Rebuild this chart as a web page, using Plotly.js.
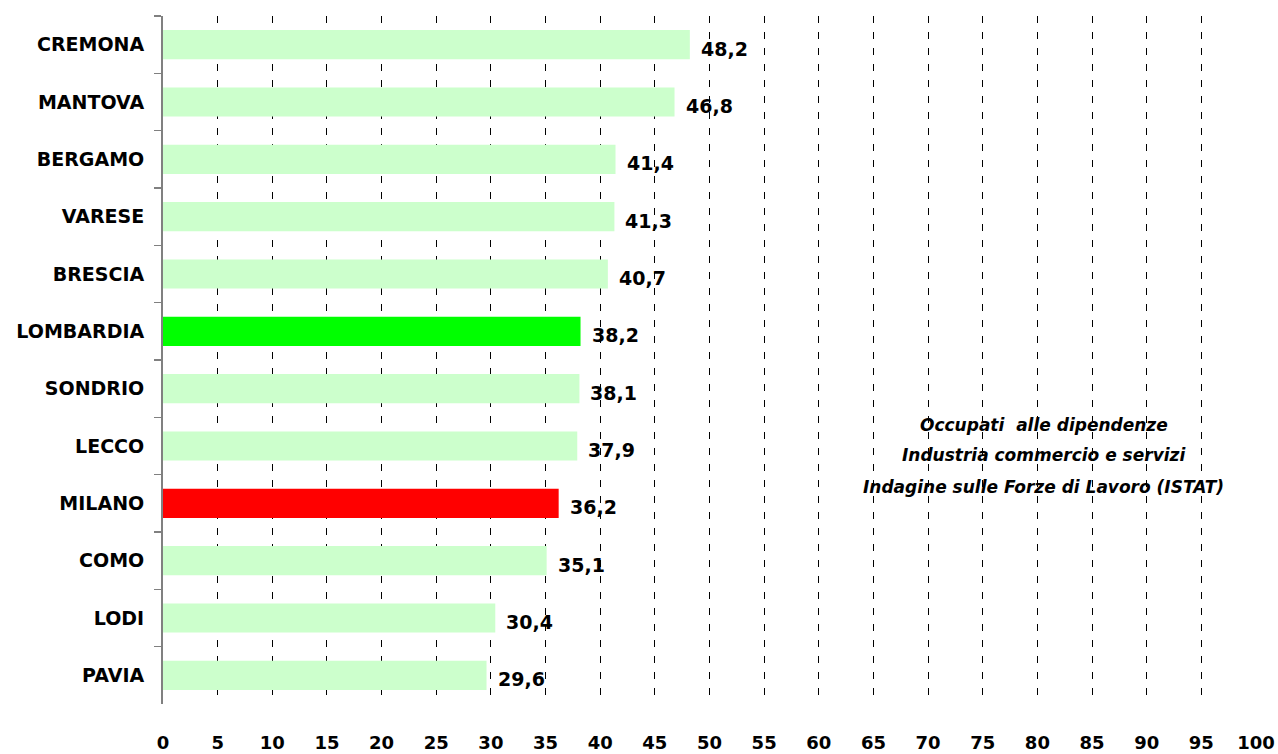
<!DOCTYPE html>
<html>
<head>
<meta charset="utf-8">
<script src="https://cdn.plot.ly/plotly-3.0.1.min.js"></script>
<style>
  html, body { margin: 0; padding: 0; background: #ffffff; }
  #chart { width: 1278px; height: 754px; }
</style>
</head>
<body>
<div id="chart"></div>
<script>
const provinces = ["CREMONA", "MANTOVA", "BERGAMO", "VARESE", "BRESCIA", "LOMBARDIA",
                   "SONDRIO", "LECCO", "MILANO", "COMO", "LODI", "PAVIA"];
const values = [48.2, 46.8, 41.4, 41.3, 40.7, 38.2, 38.1, 37.9, 36.2, 35.1, 30.4, 29.6];
const barColors = ["#CCFFCC", "#CCFFCC", "#CCFFCC", "#CCFFCC", "#CCFFCC", "#00FF00",
                   "#CCFFCC", "#CCFFCC", "#FF0000", "#CCFFCC", "#CCFFCC", "#CCFFCC"];
const noteLines = ["Occupati  alle dipendenze", "Industria commercio e servizi",
                   "Indagine sulle Forze di Lavoro (ISTAT)"];
const xTicks = [0, 5, 10, 15, 20, 25, 30, 35, 40, 45, 50, 55, 60, 65, 70, 75, 80, 85, 90, 95, 100];

const FONT = "DejaVu Sans, Verdana, sans-serif";

const trace = {
  type: "bar",
  orientation: "h",
  y: provinces,
  x: values,
  marker: { color: barColors, line: { width: 0 } },
  hoverinfo: "skip"
};

const annotations = values.map((v, i) => ({
  x: v, y: provinces[i], xref: "x", yref: "y",
  text: "<b>" + v.toFixed(1).replace(".", ",") + "</b>",
  showarrow: false, xanchor: "left", yanchor: "middle",
  xshift: 9, yshift: -4,
  font: { family: FONT, size: 19, color: "#000000" }
}));

const noteY = [0.405, 0.362, 0.315];
noteLines.forEach((t, i) => {
  annotations.push({
    xref: "paper", yref: "paper", x: 0.806, y: noteY[i],
    text: "<b><i>" + t + "</i></b>",
    showarrow: false, xanchor: "center", yanchor: "middle",
    font: { family: FONT, size: 17, color: "#000000" }
  });
});

const layout = {
  width: 1278, height: 754,
  margin: { l: 163, r: 22, t: 16, b: 50, pad: 0 },
  paper_bgcolor: "#ffffff",
  plot_bgcolor: "#ffffff",
  showlegend: false,
  bargap: 0.49,
  separators: ",.",
  font: { family: FONT, color: "#000000" },
  xaxis: {
    range: [0, 100],
    tickmode: "array",
    tickvals: xTicks,
    ticktext: xTicks.map(String),
    showgrid: true,
    gridcolor: "#000000",
    gridwidth: 1,
    griddash: "7px,9px",
    zeroline: false,
    showline: false,
    ticks: "",
    ticklabelstandoff: 26,
    tickfont: { family: FONT, size: 18, color: "#000000", weight: "bold" },
    fixedrange: true
  },
  yaxis: {
    type: "category",
    autorange: "reversed",
    showline: true,
    linecolor: "#808080",
    linewidth: 2,
    ticks: "outside",
    tickson: "boundaries",
    ticklen: 7,
    tickcolor: "#808080",
    tickwidth: 1.5,
    ticklabelstandoff: 13,
    showgrid: false,
    zeroline: false,
    tickfont: { family: FONT, size: 19, color: "#000000", weight: "bold" },
    fixedrange: true
  },
  annotations: annotations
};

Plotly.newPlot("chart", [trace], layout, { displayModeBar: false, staticPlot: true });
</script>
</body>
</html>
